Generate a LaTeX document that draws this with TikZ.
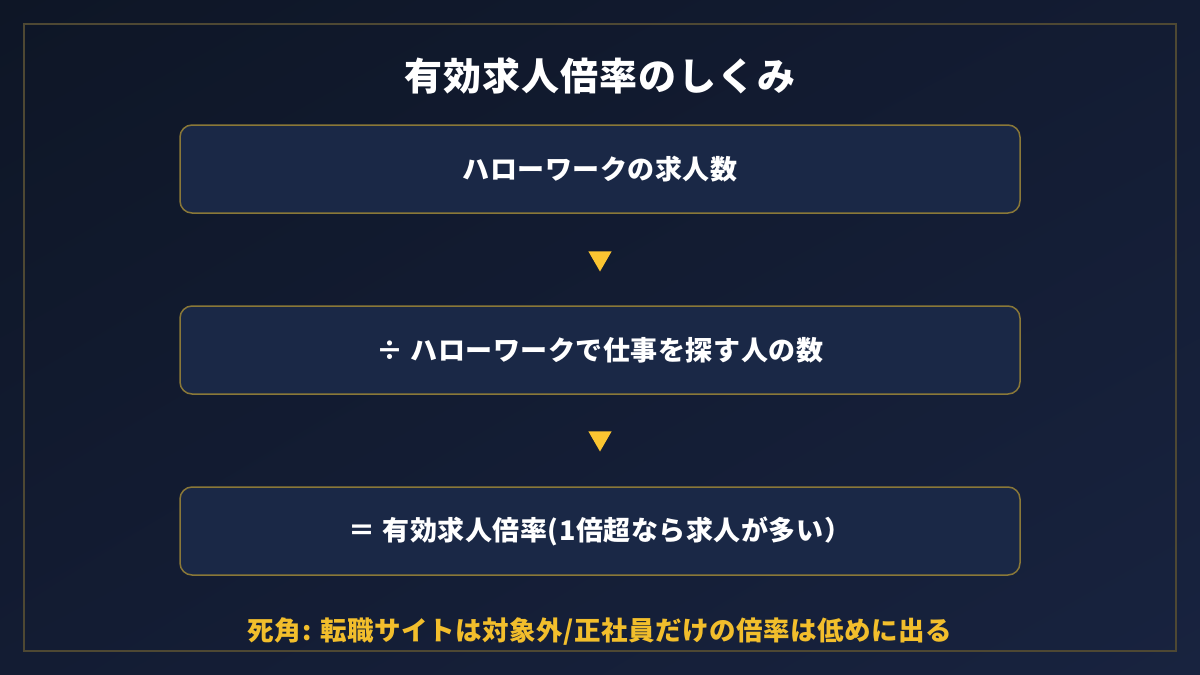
\documentclass[tikz,border=0pt]{standalone}
\usepackage{fontspec}
\setmainfont{Noto Sans CJK JP}
\newfontfamily\titlefont{Noto Sans CJK JP}[LetterSpace=3]
\newfontfamily\boxfont{Noto Sans CJK JP}[LetterSpace=2]
\newfontfamily\notefont{Noto Sans CJK JP}[LetterSpace=2]
\usetikzlibrary{shapes.geometric, shadings}
\definecolor{bgdark}{HTML}{0E1626}
\definecolor{bgmid}{HTML}{131C33}
\definecolor{bglight}{HTML}{18233F}
\definecolor{boxfill}{HTML}{1A2846}
\definecolor{boxline}{HTML}{8A7838}
\definecolor{frameline}{HTML}{4E4833}
\definecolor{tipyellow}{HTML}{FBC531}
\definecolor{notegold}{HTML}{F2BE2C}
\tikzset{
	stepbox/.style={rectangle, rounded corners=12pt, draw=boxline, line width=1.5pt,
		fill=boxfill, minimum width=840pt, minimum height=88pt, text=white,
		font=\boxfont\bfseries\fontsize{27}{32}\selectfont},
	downtip/.style={regular polygon, regular polygon sides=3, shape border rotate=180,
		fill=tipyellow, inner sep=0pt, minimum size=27pt}
}
\begin{document}
\begin{tikzpicture}[x=1pt, y=-1pt]
		\shade[upper left=bgdark, lower right=bglight, upper right=bgmid, lower left=bgmid]
			(0,0) rectangle (1200,675);
		\draw[frameline, line width=2pt] (24,24) rectangle (1176,651);
		\node [text=white, font=\titlefont\bfseries\fontsize{38}{44}\selectfont] (title) at (600,76) {有効求人倍率のしくみ};
		\node [stepbox] (jobs) at (600,169) {ハローワークの求人数};
		\node [downtip] (t1) at (600,258) {};
		\node [stepbox] (seekers) at (600,350) {÷ ハローワークで仕事を探す人の数};
		\node [downtip] (t2) at (600,438) {};
		\node [stepbox] (ratio) at (600,531) {＝ 有効求人倍率(1倍超なら求人が多い）};
		\node [text=notegold, font=\notefont\bfseries\fontsize{26.5}{30}\selectfont] (note) at (600,632) {死角: 転職サイトは対象外/正社員だけの倍率は低めに出る};
	\end{tikzpicture}
\end{document}
